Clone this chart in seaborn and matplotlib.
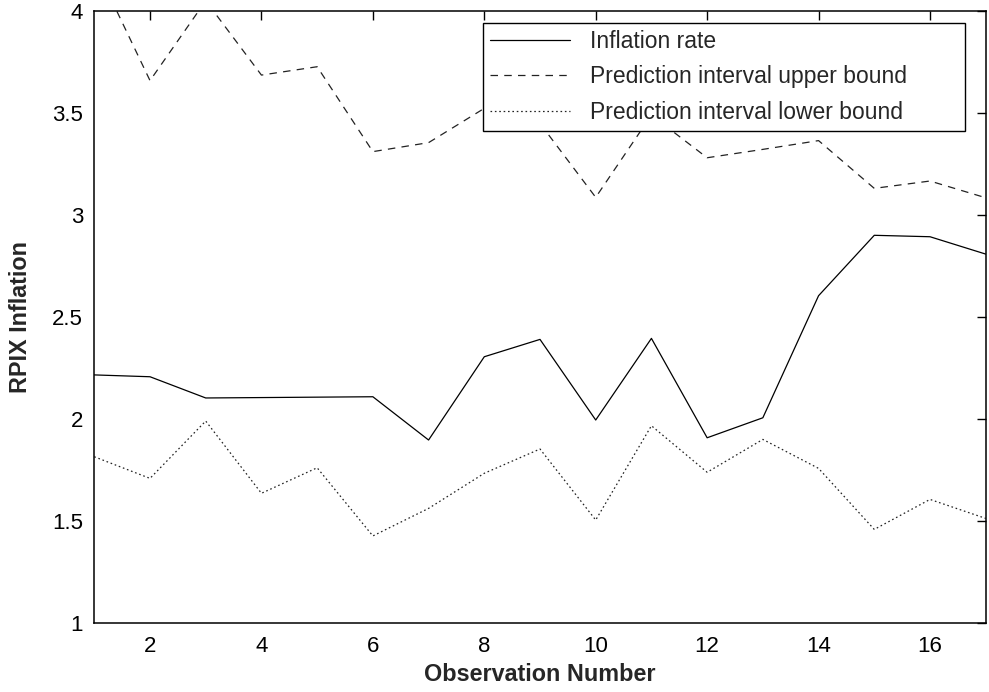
import matplotlib
matplotlib.use("Agg")
import matplotlib.pyplot as plt
import seaborn as sns
import numpy as np

obs = list(range(1, 18))
inflation = [2.217, 2.208, 2.104, 2.106, 2.108, 2.110, 1.898, 2.306, 2.391,
             1.996, 2.396, 1.909, 2.007, 2.605, 2.901, 2.894, 2.809]
upper = [4.23, 3.659, 4.05, 3.686, 3.727, 3.311, 3.355, 3.523, 3.449,
         3.087, 3.49, 3.281, 3.322, 3.365, 3.131, 3.167, 3.085]
lower = [1.816, 1.710, 1.991, 1.637, 1.762, 1.428, 1.563, 1.735, 1.854,
         1.506, 1.968, 1.740, 1.901, 1.759, 1.460, 1.607, 1.514]
labels = ["Inflation rate", "Prediction interval upper bound",
          "Prediction interval lower bound"]
xticks = [2, 4, 6, 8, 10, 12, 14, 16]
yticks = [1, 1.5, 2, 2.5, 3, 3.5, 4]
ytick_labels = ["1", "1.5", "2", "2.5", "3", "3.5", "4"]

sns.set_style("white")
plt.rcParams["font.family"] = ["Liberation Sans", "DejaVu Sans"]

fig = plt.figure(figsize=(9.89, 6.92), dpi=100)
ax = fig.add_axes([94.3 / 989, (692 - 623.3) / 692, (985.7 - 94.3) / 989, (623.3 - 11) / 692])

sns.lineplot(x=obs, y=inflation, ax=ax, color="black", linewidth=0.9,
             linestyle="-", label=labels[0])
sns.lineplot(x=obs, y=upper, ax=ax, color="#222222", linewidth=0.9,
             linestyle=(0, (6, 5)), label=labels[1])
sns.lineplot(x=obs, y=lower, ax=ax, color="#222222", linewidth=0.9,
             linestyle=(0, (1.3, 2.2)), label=labels[2])

ax.set_xlim(1, 17)
ax.set_ylim(1, 4)
ax.set_xticks(xticks)
ax.set_xticklabels([str(t) for t in xticks])
ax.set_yticks(yticks)
ax.set_yticklabels(ytick_labels)
ax.tick_params(direction="in", top=True, right=True, length=6.5, width=1,
               labelsize=16, pad=8, colors="black")
ax.tick_params(axis="x", pad=9)
for s in ax.spines.values():
    s.set_color("black")
    s.set_linewidth(1.1)

ax.set_xlabel("Observation Number", fontsize=16.8, fontweight="bold")
ax.set_ylabel("RPIX Inflation", fontsize=16.8, fontweight="bold")
ax.xaxis.set_label_coords(0.5, (623.3 - 663) / 612.3)
ax.yaxis.set_label_coords((32 - 94.3) / 891.4, 0.5)

leg_h = 0.175
leg = ax.legend(loc="upper left",
                bbox_to_anchor=((482.7 - 94.3) / 891.4, (623.3 - 23) / 612.3 - leg_h,
                                (965 - 482.7) / 891.4, leg_h),
                mode="expand", borderaxespad=0, fontsize=16.5, frameon=True,
                fancybox=False, edgecolor="black", handlelength=3.5,
                handletextpad=0.9, labelspacing=0.55, borderpad=0.3)
leg.get_frame().set_linewidth(1.0)
leg.get_frame().set_alpha(1)

fig.savefig("out.png", dpi=100)
